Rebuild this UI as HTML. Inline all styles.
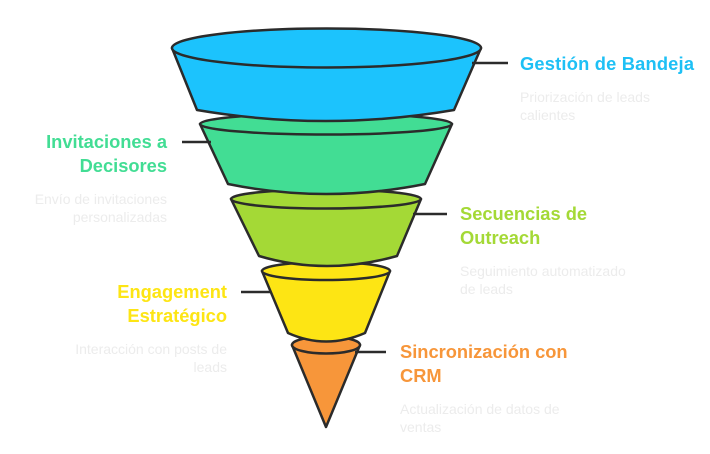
<!DOCTYPE html>
<html><head><meta charset="utf-8"><style>
html,body{margin:0;padding:0;background:#fff;}
svg{display:block;font-family:"Liberation Sans",sans-serif;}
.t{font-weight:bold;font-size:18.3px;}
.d{font-size:14px;fill:#ececec;}
</style></head><body>
<svg width="710" height="454" viewBox="0 0 710 454" xmlns="http://www.w3.org/2000/svg">
<g stroke="#2b2b2b" stroke-width="2.5" stroke-linejoin="round">
<path d="M292,345 L326,427 L360,345 Z" fill="#f7963a"/>
<ellipse cx="326" cy="345" rx="34" ry="8.5" fill="#f7963a"/>
<path d="M262,271 L288,333 Q326,350 365,333 L390,271 Z" fill="#fde514"/>
<ellipse cx="326" cy="271" rx="64" ry="9" fill="#fde514"/>
<path d="M231,199 L259,256 Q326,276 397,256 L421,199 Z" fill="#a4d936"/>
<ellipse cx="326" cy="199" rx="95" ry="9.5" fill="#a4d936"/>
<path d="M200,124 L228,184 Q326,204 425,184 L452,124 Z" fill="#42dd94"/>
<ellipse cx="326" cy="124" rx="126" ry="10.5" fill="#42dd94"/>
<path d="M172,48 L197,110 Q326,132 454,110 L481,48 Z" fill="#1cc3fd"/>
<ellipse cx="326.5" cy="48" rx="154.5" ry="19.5" fill="#1cc3fd"/>
</g>
<g stroke="#2b2b2b" stroke-width="2.5">
<line x1="472" y1="63" x2="508" y2="63"/>
<line x1="182" y1="142" x2="211" y2="142"/>
<line x1="413" y1="214" x2="447" y2="214"/>
<line x1="241" y1="292" x2="271" y2="292"/>
<line x1="355" y1="352" x2="386" y2="352"/>
</g>
<text class="t" x="520" y="70" fill="#1ec0f5" textLength="174">Gestión de Bandeja</text>
<text class="d" x="520" y="102">Priorización de leads</text>
<text class="d" x="520" y="120">calientes</text>
<g text-anchor="end">
<text class="t" x="167" y="148" fill="#42dd94">Invitaciones a</text>
<text class="t" x="167" y="172" fill="#42dd94">Decisores</text>
<text class="d" x="167" y="204">Envío de invitaciones</text>
<text class="d" x="167" y="222">personalizadas</text>
<text class="t" x="227" y="298" fill="#fde514">Engagement</text>
<text class="t" x="227" y="322" fill="#fde514">Estratégico</text>
<text class="d" x="227" y="354">Interacción con posts de</text>
<text class="d" x="227" y="372">leads</text>
</g>
<text class="t" x="460" y="220" fill="#a4d936">Secuencias de</text>
<text class="t" x="460" y="244" fill="#a4d936">Outreach</text>
<text class="d" x="460" y="276">Seguimiento automatizado</text>
<text class="d" x="460" y="294">de leads</text>
<text class="t" x="400" y="358" fill="#f7963a">Sincronización con</text>
<text class="t" x="400" y="382" fill="#f7963a">CRM</text>
<text class="d" x="400" y="414">Actualización de datos de</text>
<text class="d" x="400" y="432">ventas</text>
</svg>
</body></html>
